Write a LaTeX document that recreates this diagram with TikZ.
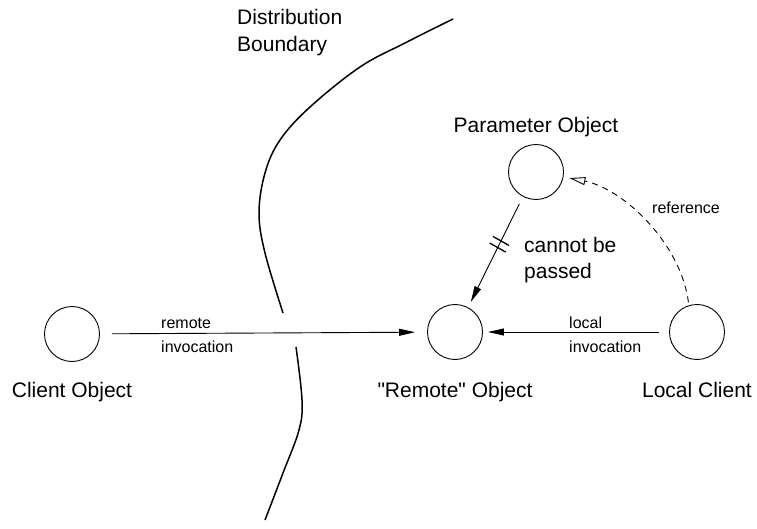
\documentclass[tikz,border=0pt]{standalone}
\usepackage{fontspec}
\setmainfont{Liberation Sans}
% a family without TeX ligature mapping, so that " stays straight
\newfontfamily\labelfont{Liberation Sans}
\usetikzlibrary{arrows.meta,calc}
\begin{document}
\begin{tikzpicture}[x=1pt,y=-1pt,
  obj/.style={draw,circle,minimum size=55pt,inner sep=0pt,line width=0.9pt},
  biglabel/.style={inner sep=0pt,font=\labelfont\fontsize{21}{27}\selectfont},
  smalllabel/.style={inner sep=0pt,font=\labelfont\fontsize{16}{20}\selectfont},
  call/.style={line width=0.9pt,-{Triangle[length=16pt,width=7pt]}},
  ref/.style={line width=0.9pt,dash pattern=on 6pt off 5pt,-{Triangle[open,length=16pt,width=8pt]}},
  boundary/.style={line width=1.5pt}]
\useasboundingbox (0,0) rectangle (757,529);

% objects
\node[obj] (client) at (72,334) {};
\node[obj] (remote) at (455,332) {};
\node[obj] (local) at (697,332) {};
\node[obj] (param) at (536,172) {};

% object names
\node[biglabel,anchor=base] (clientname) at (72,397) {Client Object};
\node[biglabel,anchor=base] (remotename) at (455,397) {"Remote" Object};
\node[biglabel,anchor=base] (localname) at (697,397) {Local Client};
\node[biglabel,anchor=base] (paramname) at (536,133) {Parameter Object};
\node[biglabel,anchor=base west] (boundname1) at (237,25) {Distribution};
\node[biglabel,anchor=base west] (boundname2) at (237,52) {Boundary};

% distribution boundary, broken where the invocation crosses it
\draw[boundary] plot[smooth,tension=0.6] coordinates
  {(453,19) (405,43) (360,67) (310,107) (280,140) (265,173) (259,213) (265,253) (283,313)};
\draw[boundary] plot[smooth,tension=0.6] coordinates
  {(296,347) (302,400) (299,430) (283,473) (265,520)};

% remote invocation
\draw[call,shorten <=12pt,shorten >=12pt] (client) -- (remote);
\node[smalllabel,anchor=base west] (rlab1) at (161,328) {remote};
\node[smalllabel,anchor=base west] (rlab2) at (161,352) {invocation};

% local invocation
\draw[call,shorten <=10pt,shorten >=5pt] (local) -- (remote);
\node[smalllabel,anchor=base west] (llab1) at (569,328) {local};
\node[smalllabel,anchor=base west] (llab2) at (569,352) {invocation};

% parameter cannot be passed
\coordinate (pstart) at (param.-118);
\coordinate (pend) at (remote.62);
\draw[call,shorten <=8pt,shorten >=6pt] (pstart) -- (pend);
\draw[line width=1.3pt] ($(pstart)!0.40!(pend)+(-8,-4.5)$) -- ++(16,9);
\draw[line width=1.3pt] ($(pstart)!0.46!(pend)+(-8,-4.5)$) -- ++(16,9);
\node[biglabel,anchor=base west] (cannot1) at (524,253) {cannot be};
\node[biglabel,anchor=base west] (cannot2) at (524,278) {passed};

% reference from the local client to the parameter
\draw[ref,shorten <=3pt,shorten >=6pt] (local.107) .. controls +(-8,-62) and +(60,12) .. (param.-10);
\node[smalllabel] (reflab) at (686,208) {reference};
\end{tikzpicture}
\end{document}
